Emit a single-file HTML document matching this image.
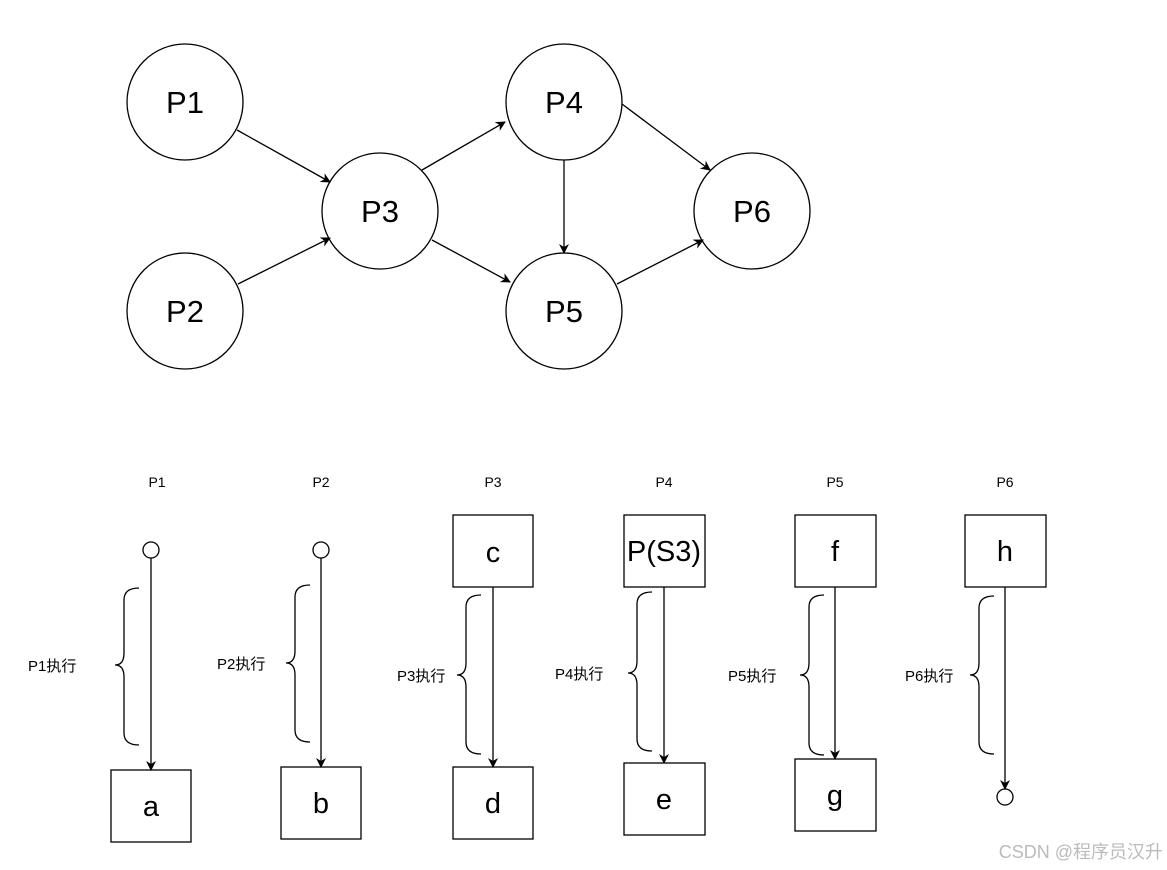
<!DOCTYPE html>
<html><head><meta charset="utf-8"><style>body{margin:0;background:#fff}svg{display:block}</style></head><body>
<svg width="1167" height="870" xmlns="http://www.w3.org/2000/svg" font-family="Liberation Sans, Noto Sans CJK SC, sans-serif">
<defs><marker id="a" markerWidth="10" markerHeight="10" refX="9" refY="5" orient="auto" markerUnits="userSpaceOnUse"><path d="M0,0 L10,5 L0,10 L3,5 z" fill="#000"/></marker></defs>
<g fill="#fff" stroke="#000" stroke-width="1.3">
<circle cx="185" cy="102" r="58"/><circle cx="185" cy="311" r="58"/><circle cx="380" cy="211" r="58"/>
<circle cx="564" cy="102" r="58"/><circle cx="564" cy="311" r="58"/><circle cx="752" cy="211" r="58"/>
</g>
<g font-size="31" text-anchor="middle">
<text x="185" y="113">P1</text><text x="185" y="322">P2</text><text x="380" y="222">P3</text>
<text x="564" y="113">P4</text><text x="564" y="322">P5</text><text x="752" y="222">P6</text>
</g>
<g stroke="#000" stroke-width="1.3" marker-end="url(#a)">
<line x1="237" y1="130" x2="330" y2="182"/><line x1="238" y1="284" x2="330" y2="238"/>
<line x1="422" y1="170" x2="505" y2="122"/><line x1="432" y1="240" x2="510" y2="282"/>
<line x1="564" y1="160" x2="564" y2="253"/><line x1="622" y1="104" x2="710" y2="170"/>
<line x1="617" y1="284" x2="703" y2="240"/>
</g>
<g font-size="14" text-anchor="middle">
<text x="157" y="487">P1</text><text x="321" y="487">P2</text><text x="493" y="487">P3</text>
<text x="664" y="487">P4</text><text x="835" y="487">P5</text><text x="1005" y="487">P6</text>
</g>
<g fill="#fff" stroke="#000" stroke-width="1.3">
<circle cx="151" cy="550" r="8"/><circle cx="321" cy="550" r="8"/><circle cx="1005" cy="797" r="8"/>
<rect x="111" y="770" width="80" height="72"/><rect x="281" y="767" width="80" height="72"/>
<rect x="453" y="515" width="80" height="72"/><rect x="453" y="767" width="80" height="72"/>
<rect x="624" y="515" width="81" height="72"/><rect x="624" y="763" width="81" height="72"/>
<rect x="795" y="515" width="81" height="72"/><rect x="795" y="759" width="81" height="72"/>
<rect x="965" y="515" width="81" height="72"/>
</g>
<g stroke="#000" stroke-width="1.3" marker-end="url(#a)">
<line x1="151" y1="558" x2="151" y2="770"/><line x1="321" y1="558" x2="321" y2="767"/>
<line x1="493" y1="587" x2="493" y2="767"/><line x1="664" y1="587" x2="664" y2="763"/>
<line x1="835" y1="587" x2="835" y2="759"/><line x1="1005" y1="587" x2="1005" y2="789"/>
</g>
<g font-size="29" text-anchor="middle">
<text x="151" y="816">a</text><text x="321" y="813">b</text><text x="493" y="562">c</text><text x="493" y="813">d</text>
<text x="664" y="561">P(S3)</text><text x="664" y="809">e</text><text x="835" y="561">f</text><text x="835" y="805">g</text><text x="1005" y="561">h</text>
</g>
<g fill="none" stroke="#000" stroke-width="1.3">
<path d="M139,588 Q124,588 124,600 L124,653 Q124,665 115,665 Q124,665 124,677 L124,733 Q124,745 139,745"/>
<path d="M310,585 Q295,585 295,597 L295,651 Q295,663 286,663 Q295,663 295,675 L295,730 Q295,742 310,742"/>
<path d="M481,595 Q466,595 466,607 L466,663 Q466,675 457,675 Q466,675 466,687 L466,742 Q466,754 481,754"/>
<path d="M652,592 Q637,592 637,604 L637,661 Q637,673 628,673 Q637,673 637,685 L637,739 Q637,751 652,751"/>
<path d="M824,595 Q809,595 809,607 L809,663 Q809,675 800,675 Q809,675 809,687 L809,743 Q809,755 824,755"/>
<path d="M994,596 Q979,596 979,608 L979,663 Q979,675 970,675 Q979,675 979,687 L979,742 Q979,754 994,754"/>
</g>
<g font-size="15">
<text x="28" y="671">P1执行</text><text x="217" y="669">P2执行</text><text x="397" y="681">P3执行</text>
<text x="555" y="679">P4执行</text><text x="728" y="681">P5执行</text><text x="905" y="681">P6执行</text>
</g>
<text x="1163" y="858" font-size="18" fill="#bbb" text-anchor="end">CSDN @程序员汉升</text>
</svg>
</body></html>
